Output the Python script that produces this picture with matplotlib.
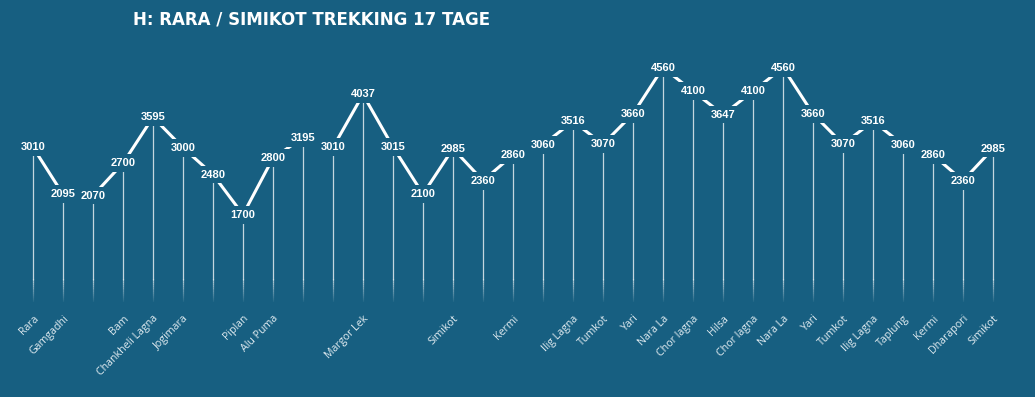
import matplotlib
matplotlib.use("Agg")
import matplotlib.pyplot as plt

# elevation profile, one point per stage stop
stops = ["Rara", "Gamgadhi", "", "Bam", "Chankheli Lagna", "Jogimara", "", "Piplan",
         "Alu Puma", "", "", "Margor Lek", "", "", "Simikot", "", "Kermi", "",
         "Ilig Lagna", "Tumkot", "Yari", "Nara La", "Chor lagna", "Hilsa", "Chor lagna",
         "Nara La", "Yari", "Tumkot", "Ilig Lagna", "Taplung", "Kermi", "Dharapori", "Simikot"]
heights = [3010, 2095, 2070, 2700, 3595, 3000, 2480, 1700,
           2800, 3195, 3010, 4037, 3015, 2100, 2985, 2360, 2860, 3060,
           3516, 3070, 3660, 4560, 4100, 3647, 4100,
           4560, 3660, 3070, 3516, 3060, 2860, 2360, 2985]
title = "H: RARA / SIMIKOT TREKKING 17 TAGE"

bg = "#175f81"
W, H = 1035, 397

fig = plt.figure(figsize=(W / 100, H / 100), dpi=100, facecolor=bg)
ax = fig.add_axes([18 / W, 1 - 302 / H, 990 / W, 257 / H])
ax.set_facecolor(bg)

x = list(range(len(heights)))

# drop lines, fading out towards the bottom
fade = 450
steps = 12
for xi, h in zip(x, heights):
    ax.plot([xi, xi], [fade, h], color="white", lw=0.9, alpha=0.75, zorder=1)
    for s in range(steps):
        y0 = fade * s / steps
        y1 = fade * (s + 1) / steps
        ax.plot([xi, xi], [y0, y1], color="white", lw=0.9,
                alpha=0.75 * (s + 1) / steps * 0.9, zorder=1, solid_capstyle="butt")

ax.plot(x, heights, color="white", lw=2.2, zorder=2, solid_capstyle="butt")

for xi, h in zip(x, heights):
    ax.text(xi, h, str(h), ha="center", va="center", color="white",
            fontsize=8, fontweight="bold", family="Liberation Sans", zorder=3,
            bbox=dict(boxstyle="square,pad=0.35", fc=bg, ec="none"))

ax.set_xlim(-0.5, len(heights) - 0.5)
ax.set_ylim(0, 5000)
ax.set_yticks([])
ax.set_xticks(x)
ax.set_xticklabels(stops, rotation=45, ha="right", rotation_mode="anchor",
                   fontsize=7.7, color="#e3edf2", family="Open Sans")
ax.tick_params(axis="x", length=0, pad=8)
for sp in ax.spines.values():
    sp.set_visible(False)

fig.text(133 / W, 1 - 19 / H, title, ha="left", va="center", color="white",
         fontsize=12, fontweight="bold", family="DejaVu Sans")

fig.savefig("out.png", dpi=100, facecolor=bg)
